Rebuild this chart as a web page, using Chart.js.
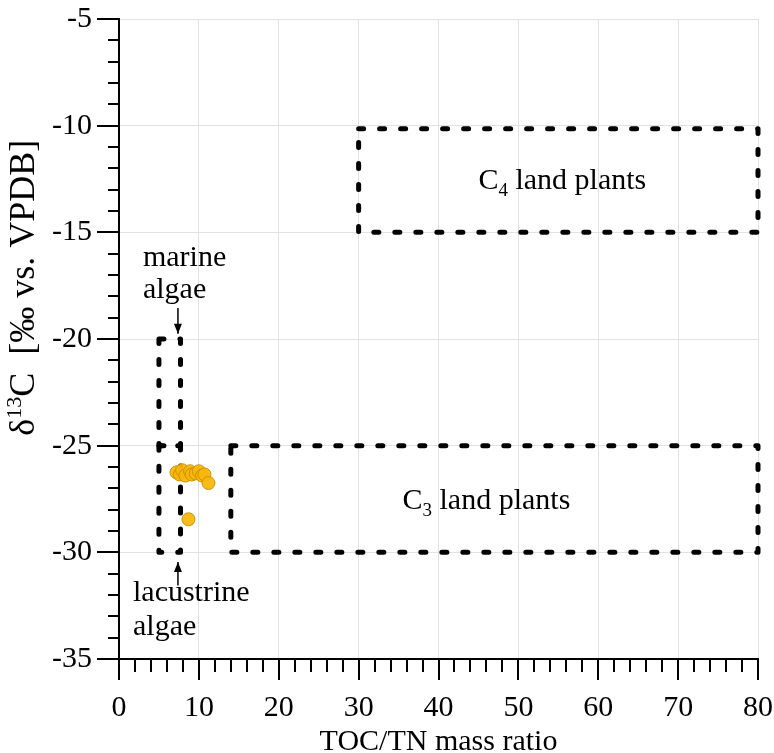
<!DOCTYPE html>
<html>
<head>
<meta charset="utf-8">
<script src="https://cdn.jsdelivr.net/npm/chart.js@4.4.1/dist/chart.umd.min.js"></script>
<style>
  html, body { margin: 0; padding: 0; background: #ffffff; }
  #wrap { width: 774px; height: 753px; }
</style>
</head>
<body>
<div id="wrap"><canvas id="c" width="774" height="753"></canvas></div>
<script>
// Sample measurements: TOC/TN mass ratio vs. delta 13C
const tocTn = [7.2, 7.6, 7.9, 8.3, 8.9, 9.1, 9.6, 10.0, 10.4, 10.7, 11.2, 8.7];
const d13C  = [-26.25, -26.35, -26.15, -26.4, -26.2, -26.35, -26.3, -26.2, -26.4, -26.35, -26.75, -28.45];

// Source end-member fields (TOC/TN range, delta 13C range)
const zoneNames = ['C4 land plants', 'C3 land plants', 'marine algae', 'lacustrine algae'];
const zoneTocTn = [[30, 80], [14, 80], [5, 7.7], [5, 7.7]];
const zoneD13C  = [[-10.15, -15], [-25, -30], [-20, -25], [-25, -30]];

// Axis ranges and tick steps
const xRange = [0, 80];
const yRange = [-35, -5];
const xMajorStep = 10, xMinorStep = 2;
const yMajorStep = 5,  yMinorStep = 1;

const FONT = '"Liberation Serif", "Times New Roman", serif';
const FS = 30;

function boxPath(xr, yr) {
  return [
    { x: xr[0], y: yr[0] }, { x: xr[1], y: yr[0] },
    { x: xr[1], y: yr[1] }, { x: xr[0], y: yr[1] },
    { x: xr[0], y: yr[0] }
  ];
}

const datasets = zoneNames.map((name, i) => ({
  label: name,
  data: boxPath(zoneTocTn[i], zoneD13C[i]),
  showLine: true,
  borderColor: '#000000',
  borderWidth: 5,
  borderDash: [5, 16],
  borderCapStyle: 'round',
  borderJoinStyle: 'round',
  pointRadius: 0,
  fill: false,
  clip: false,
  order: 2
}));

datasets.push({
  label: 'samples',
  data: tocTn.map((v, i) => ({ x: v, y: d13C[i] })),
  pointRadius: 6.5,
  pointBackgroundColor: 'rgba(250, 182, 10, 0.92)',
  pointBorderColor: '#c99400',
  pointBorderWidth: 1,
  showLine: false,
  order: 1
});

// Draw text made of runs with optional sub/superscript
function drawRich(ctx, runs, x, y, align, size) {
  const fs = size || FS;
  const fontFor = r => (r.s ? Math.round(fs * 0.62) : fs) + 'px ' + FONT;
  const widths = runs.map(r => { ctx.font = fontFor(r); return ctx.measureText(r.t).width; });
  const total = widths.reduce((a, b) => a + b, 0);
  let cx = align === 'center' ? x - total / 2 : (align === 'right' ? x - total : x);
  ctx.textAlign = 'left';
  ctx.textBaseline = 'alphabetic';
  runs.forEach((r, i) => {
    ctx.font = fontFor(r);
    let dy = 0;
    if (r.s === 'sub') dy = fs * 0.22;
    if (r.s === 'sup') dy = -fs * 0.36;
    ctx.fillText(r.t, cx, y + dy);
    cx += widths[i];
  });
}

function arrow(ctx, x, y0, y1) {
  ctx.save();
  ctx.strokeStyle = '#000';
  ctx.fillStyle = '#000';
  ctx.lineWidth = 1.5;
  ctx.beginPath();
  ctx.moveTo(x, y0);
  ctx.lineTo(x, y1);
  ctx.stroke();
  const dir = Math.sign(y1 - y0);
  ctx.beginPath();
  ctx.moveTo(x, y1);
  ctx.lineTo(x - 4, y1 - dir * 10);
  ctx.lineTo(x + 4, y1 - dir * 10);
  ctx.closePath();
  ctx.fill();
  ctx.restore();
}

const decorations = {
  id: 'decorations',
  afterDraw(chart) {
    const ctx = chart.ctx;
    const xs = chart.scales.x, ys = chart.scales.y;
    const area = chart.chartArea;
    ctx.save();
    ctx.strokeStyle = '#000';
    ctx.lineWidth = 2;
    ctx.lineCap = 'butt';

    // outward major and minor ticks
    for (let v = xRange[0]; v <= xRange[1] + 1e-9; v += xMinorStep) {
      const px = Math.round(xs.getPixelForValue(v));
      const len = (v % xMajorStep === 0) ? 21 : 13;
      ctx.beginPath();
      ctx.moveTo(px, area.bottom);
      ctx.lineTo(px, area.bottom + len);
      ctx.stroke();
    }
    for (let v = yRange[0]; v <= yRange[1] + 1e-9; v += yMinorStep) {
      const py = Math.round(ys.getPixelForValue(v));
      const len = (Math.abs(v) % yMajorStep === 0) ? 22 : 11;
      ctx.beginPath();
      ctx.moveTo(area.left, py);
      ctx.lineTo(area.left - len, py);
      ctx.stroke();
    }

    ctx.fillStyle = '#000';

    // field labels
    drawRich(ctx, [{ t: 'C' }, { t: '4', s: 'sub' }, { t: ' land plants' }],
      xs.getPixelForValue(55.5), ys.getPixelForValue(-12.5) + 10, 'center');
    drawRich(ctx, [{ t: 'C' }, { t: '3', s: 'sub' }, { t: ' land plants' }],
      xs.getPixelForValue(46), ys.getPixelForValue(-27.5) + 10, 'center');

    ctx.font = FS + 'px ' + FONT;
    ctx.textAlign = 'left';
    ctx.textBaseline = 'middle';
    ctx.fillText('marine', xs.getPixelForValue(3.0), ys.getPixelForValue(-16.2));
    ctx.fillText('algae', xs.getPixelForValue(3.0), ys.getPixelForValue(-17.7));
    ctx.fillText('lacustrine', xs.getPixelForValue(1.75), ys.getPixelForValue(-31.9));
    ctx.fillText('algae', xs.getPixelForValue(1.75), ys.getPixelForValue(-33.5));

    arrow(ctx, xs.getPixelForValue(7.38), ys.getPixelForValue(-18.55), ys.getPixelForValue(-19.75));
    arrow(ctx, xs.getPixelForValue(7.38), ys.getPixelForValue(-31.55), ys.getPixelForValue(-30.45));

    // axis titles
    ctx.font = FS + 'px ' + FONT;
    ctx.textAlign = 'center';
    ctx.textBaseline = 'alphabetic';
    ctx.fillText('TOC/TN mass ratio', (area.left + area.right) / 2, 750);

    ctx.save();
    ctx.translate(34, ys.getPixelForValue(-17.6));
    ctx.rotate(-Math.PI / 2);
    drawRich(ctx, [{ t: 'δ' }, { t: '13', s: 'sup' }, { t: 'C  [‰ vs. VPDB]' }], 0, 0, 'center', 36);
    ctx.restore();

    ctx.restore();
  }
};

new Chart(document.getElementById('c').getContext('2d'), {
  type: 'scatter',
  data: { datasets },
  options: {
    responsive: false,
    animation: false,
    events: [],
    layout: { padding: { top: 19, right: 16, left: 0, bottom: 0 } },
    plugins: { legend: { display: false }, tooltip: { enabled: false } },
    scales: {
      x: {
        type: 'linear',
        min: xRange[0], max: xRange[1],
        afterFit(scale) {
          scale.height = 94;
          scale.paddingLeft = 0; scale.paddingRight = 0;
        },
        ticks: {
          stepSize: xMajorStep,
          padding: 31,
          color: '#000',
          font: { family: FONT, size: FS },
          maxRotation: 0
        },
        grid: { color: '#e2e2e2', lineWidth: 1, drawTicks: false },
        border: { color: '#000', width: 2 }
      },
      y: {
        type: 'linear',
        min: yRange[0], max: yRange[1],
        afterFit(scale) {
          scale.width = 119;
          scale.paddingTop = 0; scale.paddingBottom = 0;
        },
        ticks: {
          stepSize: yMajorStep,
          padding: 27,
          color: '#000',
          font: { family: FONT, size: FS }
        },
        grid: { color: '#e2e2e2', lineWidth: 1, drawTicks: false },
        border: { color: '#000', width: 2 }
      }
    }
  },
  plugins: [decorations]
});
</script>
</body>
</html>
